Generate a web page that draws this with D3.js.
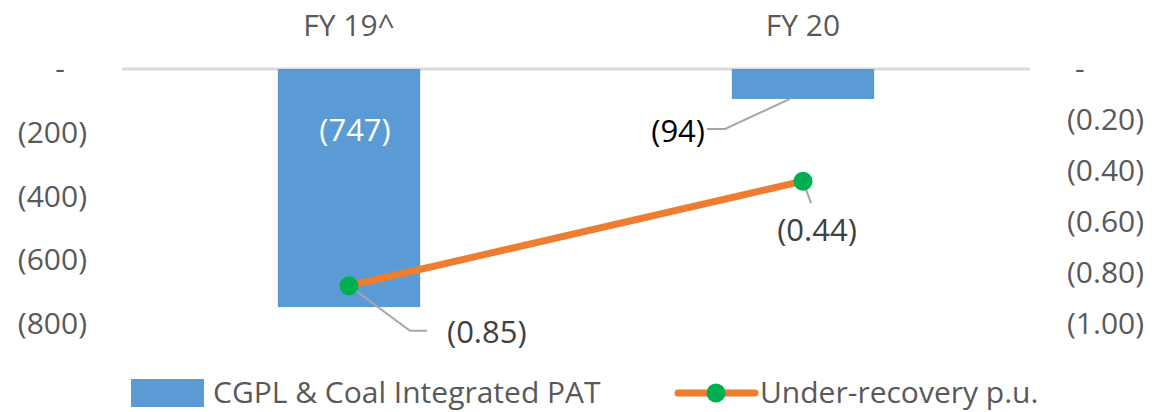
<!DOCTYPE html>
<html><head><meta charset="utf-8">
<script src="https://cdn.jsdelivr.net/npm/d3@7"></script>
<style>
body{margin:0;background:#fff;}
svg{display:block;font-family:"Open Sans",sans-serif;}
</style></head>
<body><svg id="c" width="1158" height="412"></svg>
<script>
const categories = ["FY 19^", "FY 20"];
const patValues = [-747, -94];
const underRecovery = [-0.85, -0.44];
const leftTicks = [0, -200, -400, -600, -800];
const rightTicks = [0, -0.2, -0.4, -0.6, -0.8, -1.0];
const seriesNames = ["CGPL & Coal Integrated PAT", "Under-recovery p.u."];

const svg = d3.select("#c");
const textColor = "#595959";
const fs = 30, fsLab = 31;
const plotTop = 69, plotBottom = 324, plotLeft = 122, plotRight = 1030;

const x = d3.scaleBand().domain(categories).range([plotLeft, plotRight]).padding(0);
const yL = d3.scaleLinear().domain([-800, 0]).range([plotBottom, plotTop]);
const yR = d3.scaleLinear().domain([-1, 0]).range([plotBottom, plotTop]);
const barW = x.bandwidth() / 3.19;
const cx = c => x(c) + x.bandwidth() / 2;

// category axis at top (zero line)
svg.append("line").attr("x1", plotLeft).attr("x2", plotRight).attr("y1", yL(0)).attr("y2", yL(0))
  .attr("stroke", "#D9D9D9").attr("stroke-width", 3);

svg.selectAll(".cat").data(categories).enter().append("text")
  .attr("x", d => cx(d)).attr("y", 36).attr("text-anchor", "middle")
  .attr("fill", textColor).attr("font-size", fs).text(d => d);

// left axis
const fmtL = v => v === 0 ? "-" : "(" + Math.abs(v) + ")";
const gL = svg.append("g").attr("transform", `translate(87,0)`)
  .call(d3.axisLeft(yL).tickValues(leftTicks).tickFormat(fmtL).tickSize(0).tickPadding(0));
gL.select(".domain").remove();
gL.selectAll("text").attr("font-size", fs).attr("fill", textColor).attr("font-family", "Open Sans")
  .attr("dx", d => d === 0 ? -22 : 0);

// right axis
const fmtR = v => v === 0 ? "-" : "(" + Math.abs(v).toFixed(2) + ")";
const gR = svg.append("g").attr("transform", `translate(1067,0)`)
  .call(d3.axisRight(yR).tickValues(rightTicks).tickFormat(fmtR).tickSize(0).tickPadding(0));
gR.select(".domain").remove();
gR.selectAll("text").attr("font-size", fs).attr("fill", textColor).attr("font-family", "Open Sans")
  .attr("dx", d => d === 0 ? 8 : 0);

// bars
svg.selectAll(".bar").data(patValues).enter().append("rect")
  .attr("x", (d, i) => cx(categories[i]) - barW / 2)
  .attr("y", yL(0))
  .attr("width", barW)
  .attr("height", d => yL(d) - yL(0))
  .attr("fill", "#5B9BD5");

// line
const line = d3.line().x((d, i) => cx(categories[i])).y(d => yR(d));
svg.append("path").datum(underRecovery).attr("d", line)
  .attr("fill", "none").attr("stroke", "#ED7D31").attr("stroke-width", 7);

// leader lines
const lead = "#A6A6A6";
svg.append("polyline").attr("points", [
  [cx(categories[1]) - 13, yL(patValues[1])],
  [725, yL(patValues[1]) + 30], [707, yL(patValues[1]) + 30]].join(" "))
  .attr("fill", "none").attr("stroke", lead).attr("stroke-width", 2);
svg.append("polyline").attr("points", [
  [cx(categories[0]), yR(underRecovery[0])],
  [cx(categories[0]) + 61, yR(underRecovery[0]) + 45],
  [cx(categories[0]) + 78, yR(underRecovery[0]) + 45]].join(" "))
  .attr("fill", "none").attr("stroke", lead).attr("stroke-width", 2);
svg.append("line")
  .attr("x1", cx(categories[1])).attr("y1", yR(underRecovery[1]))
  .attr("x2", cx(categories[1]) + 8).attr("y2", yR(underRecovery[1]) + 22)
  .attr("stroke", lead).attr("stroke-width", 2);

// markers
svg.selectAll(".mk").data(underRecovery).enter().append("circle")
  .attr("cx", (d, i) => cx(categories[i])).attr("cy", d => yR(d)).attr("r", 9.5)
  .attr("fill", "#00B050");

// data labels
svg.append("text").attr("x", cx(categories[0]) + 6).attr("y", 141).attr("text-anchor", "middle")
  .attr("font-size", fsLab).attr("fill", "#fff").text(fmtL(patValues[0]));
svg.append("text").attr("x", 705).attr("y", 142).attr("text-anchor", "end")
  .attr("font-size", fsLab).attr("fill", "#000").text(fmtL(patValues[1]));
svg.append("text").attr("x", 447).attr("y", yR(underRecovery[0]) + 57).attr("text-anchor", "start")
  .attr("font-size", fsLab).attr("fill", "#404040").text(fmtR(underRecovery[0]));
svg.append("text").attr("x", cx(categories[1]) + 14).attr("y", yR(underRecovery[1]) + 60).attr("text-anchor", "middle")
  .attr("font-size", fsLab).attr("fill", "#404040").text(fmtR(underRecovery[1]));

// legend
const ly = 393;
svg.append("rect").attr("x", 131).attr("y", ly - 14).attr("width", 73).attr("height", 28).attr("fill", "#5B9BD5");
svg.append("text").attr("x", 213).attr("y", ly + 10).attr("font-size", fs).attr("fill", textColor).text(seriesNames[0]);
svg.append("line").attr("x1", 678).attr("x2", 755).attr("y1", ly).attr("y2", ly)
  .attr("stroke", "#ED7D31").attr("stroke-width", 7).attr("stroke-linecap", "round");
svg.append("circle").attr("cx", 716).attr("cy", ly).attr("r", 9.5).attr("fill", "#00B050");
svg.append("text").attr("x", 760).attr("y", ly + 10).attr("font-size", fs).attr("fill", textColor).text(seriesNames[1]);
</script></body></html>
